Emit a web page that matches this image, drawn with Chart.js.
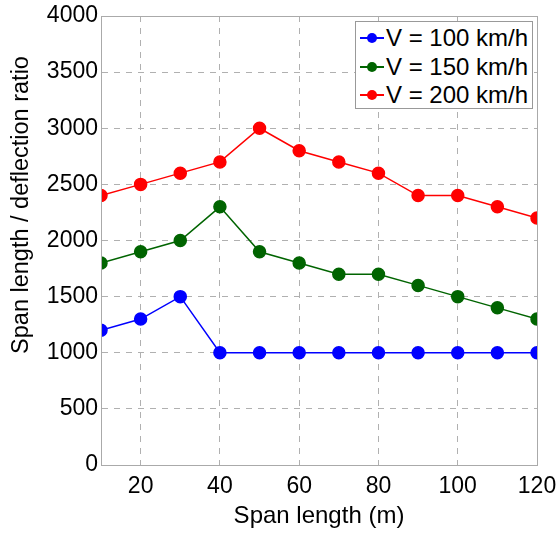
<!DOCTYPE html>
<html>
<head>
<meta charset="utf-8">
<script src="https://cdn.jsdelivr.net/npm/chart.js@4.4.1/dist/chart.umd.min.js"></script>
<style>
  html, body { margin: 0; padding: 0; background: #fff; }
  #wrap { position: relative; width: 557px; height: 534px; }
  #legend {
    position: absolute; left: 355px; top: 21px; width: 176px; height: 86px;
    border: 1px solid #999; background: #fff;
    font-family: "Liberation Sans", Arial, sans-serif; font-size: 24px; color: #000;
  }
  .row { position: absolute; left: 0; height: 28px; line-height: 28px; white-space: nowrap; }
  .sample { position: absolute; left: 4px; top: 13px; width: 24px; height: 2px; }
  .dot { position: absolute; left: 7px; top: -4px; width: 10px; height: 10px; border-radius: 50%; }
  .lbl { position: absolute; left: 30px; top: 0; }
  #ytitle {
    position: absolute; left: -180px; top: 191px; width: 400px; height: 28px; line-height: 28px;
    text-align: center; transform: rotate(-90deg); transform-origin: 50% 50%;
    font-family: "Liberation Sans", Arial, sans-serif; font-size: 23.5px; color: #000; white-space: nowrap;
  }
</style>
</head>
<body>
<div id="wrap">
  <canvas id="chart" width="557" height="534"></canvas>
  <div id="legend"></div>
  <div id="ytitle"></div>
</div>
<script>
const spans = [10, 20, 30, 40, 50, 60, 70, 80, 90, 100, 110, 120];
const v100 = [1200, 1300, 1500, 1000, 1000, 1000, 1000, 1000, 1000, 1000, 1000, 1000];
const v150 = [1800, 1900, 2000, 2300, 1900, 1800, 1700, 1700, 1600, 1500, 1400, 1300];
const v200 = [2400, 2500, 2600, 2700, 3000, 2800, 2700, 2600, 2400, 2400, 2300, 2200];
const xTicks = [20, 40, 60, 80, 100, 120];
const seriesNames = ['V = 100 km/h', 'V = 150 km/h', 'V = 200 km/h'];
const seriesColors = ['#0000ff', '#006400', '#ff0000'];
const xTitle = 'Span length (m)';
const yTitle = 'Span length / deflection ratio';

const makeSet = (i, values) => ({
  label: seriesNames[i],
  data: spans.map((x, k) => ({ x: x, y: values[k] })),
  borderColor: seriesColors[i],
  backgroundColor: seriesColors[i],
  pointBackgroundColor: seriesColors[i],
  pointBorderColor: seriesColors[i],
  pointRadius: 6,
  borderWidth: 1.5,
  tension: 0,
  fill: false,
});

// solid frame around the plot area
const framePlugin = {
  id: 'frame',
  afterDraw(chart) {
    const a = chart.chartArea;
    const ctx = chart.ctx;
    ctx.save();
    ctx.strokeStyle = '#aaaaaa';
    ctx.lineWidth = 1;
    ctx.strokeRect(a.left + 0.5, a.top + 0.5, a.right - a.left, a.bottom - a.top);
    ctx.restore();
  },
};

const tickFont = { family: '"Liberation Sans", Arial, sans-serif', size: 23 };
const titleFont = { family: '"Liberation Sans", Arial, sans-serif', size: 24 };

const chart = new Chart(document.getElementById('chart').getContext('2d'), {
  type: 'line',
  data: { datasets: [makeSet(0, v100), makeSet(1, v150), makeSet(2, v200)] },
  options: {
    responsive: false,
    animation: false,
    devicePixelRatio: 1,
    layout: { padding: { left: 0, top: 16, right: 20, bottom: 0 } },
    plugins: { legend: { display: false }, tooltip: { enabled: false } },
    scales: {
      x: {
        type: 'linear',
        min: 10,
        max: 120,
        afterBuildTicks: (scale) => { scale.ticks = xTicks.map((v) => ({ value: v })); },
        afterFit: (scale) => { scale.height = 69; scale.paddingLeft = 0; scale.paddingRight = 0; },
        grid: { color: '#b0b0b0', drawTicks: false },
        border: { color: '#aaaaaa', dash: [6, 6] },
        ticks: { color: '#000', font: tickFont, padding: 8, maxRotation: 0, callback: (v) => String(v) },
        title: { display: true, text: xTitle, color: '#000', font: titleFont, padding: { top: 0, bottom: 3 } },
      },
      y: {
        min: 0,
        max: 4000,
        afterFit: (scale) => { scale.width = 101; scale.paddingTop = 0; scale.paddingBottom = 0; },
        grid: { color: '#b0b0b0', drawTicks: false },
        border: { color: '#aaaaaa', dash: [6, 6] },
        ticks: { color: '#000', font: tickFont, padding: 3, stepSize: 500, callback: (v) => String(v) },
      },
    },
  },
  plugins: [framePlugin],
});

document.getElementById('ytitle').textContent = yTitle;

// legend in the upper-right corner, built from the datasets
const legend = document.getElementById('legend');
chart.data.datasets.forEach((ds, i) => {
  const row = document.createElement('div');
  row.className = 'row';
  row.style.top = (2 + i * 28.5) + 'px';
  row.innerHTML = `<div class="sample" style="background:${ds.borderColor}">
      <div class="dot" style="background:${ds.borderColor}"></div></div>
    <span class="lbl">${ds.label}</span>`;
  legend.appendChild(row);
});
</script>
</body>
</html>
